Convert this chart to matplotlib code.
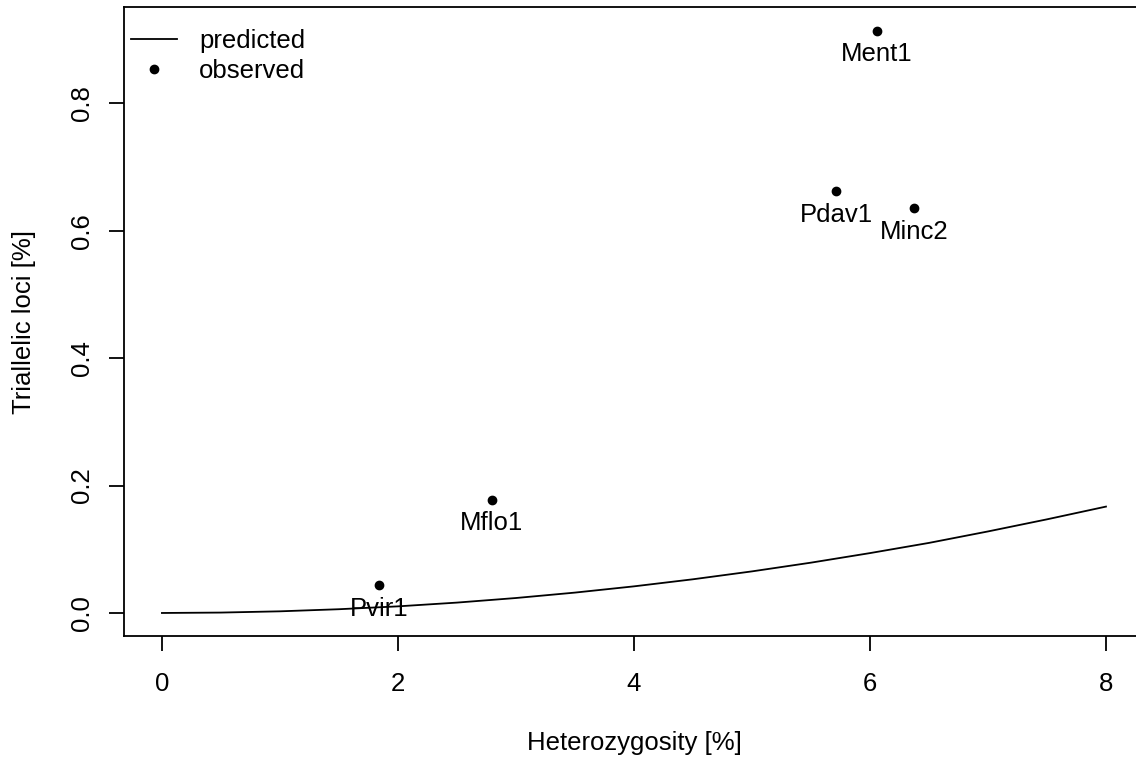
import matplotlib
matplotlib.use("Agg")
import matplotlib.pyplot as plt

# predicted curve, sampled every 0.5 % heterozygosity
pred_het = [0, 0.5, 1, 1.5, 2, 2.5, 3, 3.5, 4, 4.5, 5, 5.5, 6, 6.5, 7, 7.5, 8]
pred_tri = [0, 0.00065, 0.0026, 0.0059, 0.0104, 0.0163, 0.0235, 0.032, 0.0418,
            0.0529, 0.0653, 0.079, 0.094, 0.110, 0.128, 0.147, 0.167]

# observed genomes
species = ["Ment1", "Pdav1", "Minc2", "Mflo1", "Pvir1"]
obs_het = [6.06, 5.714, 6.372, 2.797, 1.841]
obs_tri = [0.914, 0.662, 0.635, 0.178, 0.0435]

plt.rcParams["font.family"] = ["Liberation Sans", "DejaVu Sans"]
plt.rcParams["font.size"] = 18.5

fig = plt.figure(figsize=(11.36, 7.6), dpi=100)
ax = fig.add_axes([0.1093, 0.1628, 0.8975, 0.8274])

ax.plot(pred_het, pred_tri, color="black", lw=1.3, label="predicted")
ax.plot(obs_het, obs_tri, "o", color="black", ms=6, label="observed")
for name, x, y in zip(species, obs_het, obs_tri):
    ax.annotate(name, (x, y), xytext=(0, -17), textcoords="offset points",
                ha="center", va="center")

# R-style 4% axis padding
ymax = max(obs_tri)
ax.set_xlim(-0.32, 8.32)
ax.set_ylim(-0.04 * ymax, ymax * 1.04)
ax.set_xticks([0, 2, 4, 6, 8])
ax.set_yticks([0.0, 0.2, 0.4, 0.6, 0.8])
ax.set_yticklabels(["0.0", "0.2", "0.4", "0.6", "0.8"], rotation=90, va="center")
ax.tick_params(direction="out", length=11, width=1.3)
ax.tick_params(axis="x", pad=15)
ax.tick_params(axis="y", pad=11)
for s in ax.spines.values():
    s.set_linewidth(1.3)

ax.set_xlabel("Heterozygosity [%]", labelpad=25)
ax.set_ylabel("Triallelic loci [%]", labelpad=24)

ax.legend(loc="upper left", bbox_to_anchor=(0.0069, 0.9656), frameon=False,
          handlelength=1.8, handletextpad=0.85, labelspacing=0.23,
          borderaxespad=0, borderpad=0)

fig.savefig("out.png", dpi=100)
